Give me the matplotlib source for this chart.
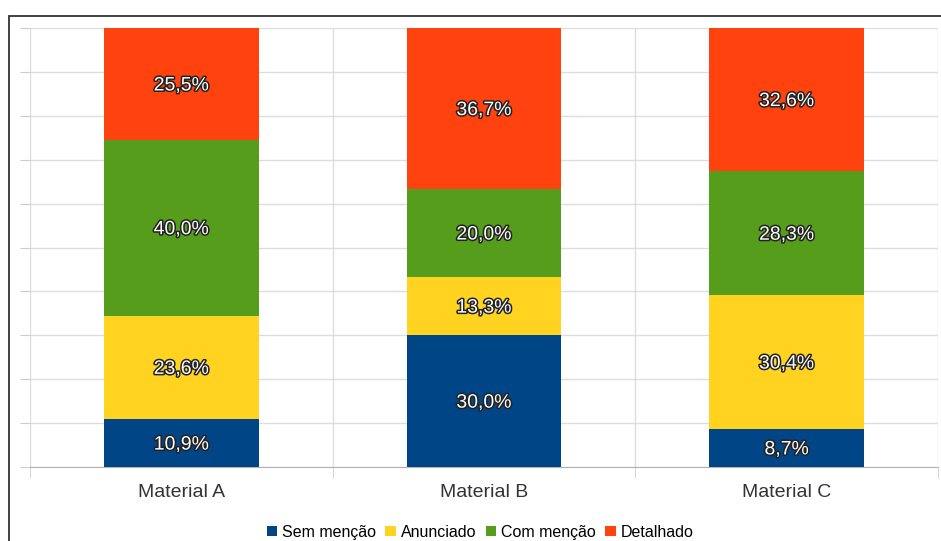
import matplotlib.pyplot as plt
import matplotlib.patheffects as pe
from matplotlib.patches import Rectangle
import numpy as np

plt.rcParams['font.family'] = ['Liberation Sans', 'DejaVu Sans']

materiais = ['Material A', 'Material B', 'Material C']
series = ['Sem menção', 'Anunciado', 'Com menção', 'Detalhado']
sem_mencao = [10.9, 30.0, 8.7]
anunciado = [23.6, 13.3, 30.4]
com_mencao = [40.0, 20.0, 28.3]
detalhado = [25.5, 36.7, 32.6]
cores = ['#004586', '#ffd320', '#579d1c', '#ff420e']

fig = plt.figure(figsize=(9.41, 5.41), dpi=100)
ax = fig.add_axes([30 / 941, 1 - 467 / 541, 908 / 941, 439 / 541])

# moldura do gráfico
fig.patches.append(Rectangle((9 / 941, -0.2), 1.2, 1.2 - 16 / 541,
                             transform=fig.transFigure, fill=False,
                             edgecolor='#333333', linewidth=1.3))

x = np.arange(len(materiais))
base = np.zeros(len(materiais))
for nome, valores, cor in zip(series, [sem_mencao, anunciado, com_mencao, detalhado], cores):
    valores = np.array(valores)
    ax.bar(x, valores, 0.51, bottom=base, color=cor, label=nome, zorder=3)
    for xi, b, v in zip(x, base, valores):
        t = ax.text(xi, b + v / 2, f'{v:.1f}%'.replace('.', ','), ha='center',
                    va='center_baseline', color='white', fontsize=14, zorder=4)
        t.set_path_effects([pe.withStroke(linewidth=2.2, foreground='#222222')])
    base += valores

ax.set_xlim(-0.5, 2.5)
ax.set_ylim(0, 100)
ax.set_yticks(np.arange(0, 101, 10))
ax.set_yticklabels([])
ax.set_xticks(x)
ax.set_xticklabels(materiais, fontsize=14, color='#333333')
ax.set_xticks([-0.5, 0.5, 1.5, 2.5], minor=True)
ax.tick_params(axis='x', which='major', length=0, pad=12)
ax.tick_params(axis='x', which='minor', length=8, color='#cccccc')
ax.tick_params(axis='y', length=7, color='#cccccc')
ax.grid(True, which='major', axis='y', color='#dddddd', linewidth=1, zorder=0)
ax.grid(True, which='minor', axis='x', color='#dddddd', linewidth=1, zorder=0)
for lado in ['top', 'right', 'left']:
    ax.spines[lado].set_visible(False)
ax.spines['bottom'].set_color('#b3b3b3')

fig.legend(loc='lower center', bbox_to_anchor=(0.51, -0.024), ncol=4, frameon=False,
           fontsize=11.5, handlelength=0.65, handleheight=0.65, handletextpad=0.3,
           columnspacing=0.6)

fig.savefig('out.png', dpi=100)
